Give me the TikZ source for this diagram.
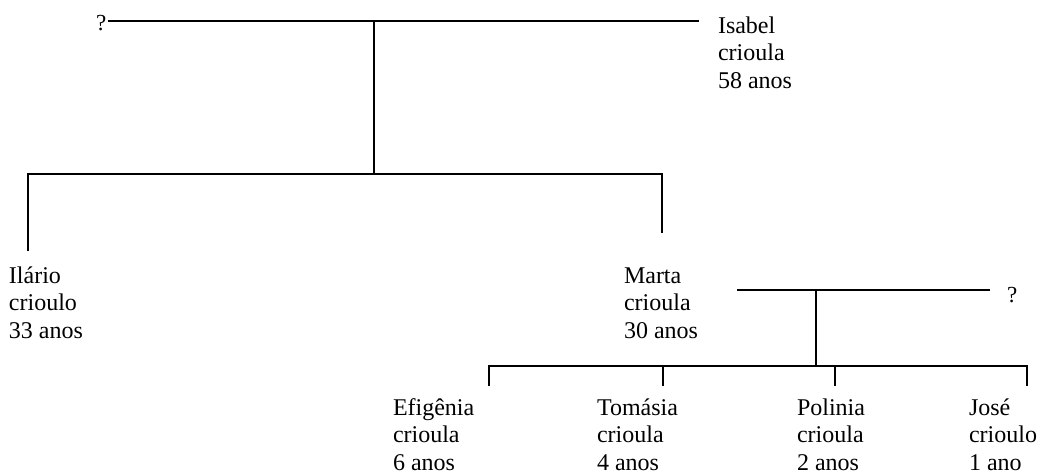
\documentclass[tikz,border=0pt]{standalone}
\usepackage{fontspec}
\setmainfont{Liberation Serif}
% three-line card whose baseline is the baseline of its first line
\newcommand{\famcard}[3]{\vtop{\baselineskip=27.5pt\hbox{#1}\hbox{#2}\hbox{#3}}}
\begin{document}
\begin{tikzpicture}[x=1pt,y=-1pt,
  person/.style={anchor=base west,inner sep=0pt,outer sep=0pt,
    font=\fontsize{24pt}{27.5pt}\selectfont},
  unknown/.style={anchor=base west,inner sep=0pt,outer sep=0pt,
    font=\fontsize{23pt}{26pt}\selectfont},
  link/.style={line width=1.5pt,line cap=rect},
  couple/.style={line width=2pt}]
\useasboundingbox (0,0) rectangle (1040,474);

% people
\node[unknown] (q1) at (96,30) {?};
\node[person] (isabel) at (718,33) {\famcard{Isabel}{crioula}{58 anos}};
\node[person] (ilario) at (9,283) {\famcard{Ilário}{crioulo}{33 anos}};
\node[person] (marta) at (624,283) {\famcard{Marta}{crioula}{30 anos}};
\node[unknown] (q2) at (1007,302) {?};
\node[person] (efig) at (393,415) {\famcard{Efigênia}{crioula}{6 anos}};
\node[person] (tomas) at (597,415) {\famcard{Tomásia}{crioula}{4 anos}};
\node[person] (polin) at (797,415) {\famcard{Polinia}{crioula}{2 anos}};
\node[person] (jose) at (969,415) {\famcard{José}{crioulo}{1 ano}};

% first couple and their children
\coordinate (c1L) at (108,21);
\coordinate (c1R) at (699,21);
\coordinate (c1M) at (374,21);
\coordinate (s1M) at (374,174);
\coordinate (s1L) at (28,174);
\coordinate (s1R) at (662,174);
\coordinate (ilTop) at (28,250);
\coordinate (maTop) at (662,232);
\draw[couple] (c1L) -- (c1R);
\draw[link] (c1M) -- (s1M);
\draw[link] (s1L) -- (s1R);
\draw[link] (s1L) -- (ilTop);
\draw[link] (s1R) -- (maTop);

% second couple and their children
\coordinate (c2L) at (738,290);
\coordinate (c2R) at (989,290);
\coordinate (c2M) at (816,290);
\coordinate (s2M) at (816,366);
\coordinate (s2L) at (489,366);
\coordinate (s2R) at (1027,366);
\coordinate (efTop) at (489,385);
\coordinate (toTop) at (663,385);
\coordinate (poTop) at (835,385);
\coordinate (joTop) at (1027,385);
\coordinate (toJ) at (663,366);
\coordinate (poJ) at (835,366);
\draw[link] (c2L) -- (c2R);
\draw[link] (c2M) -- (s2M);
\draw[link] (s2L) -- (s2R);
\draw[link] (s2L) -- (efTop);
\draw[link] (toJ) -- (toTop);
\draw[link] (poJ) -- (poTop);
\draw[link] (s2R) -- (joTop);
\end{tikzpicture}
\end{document}
